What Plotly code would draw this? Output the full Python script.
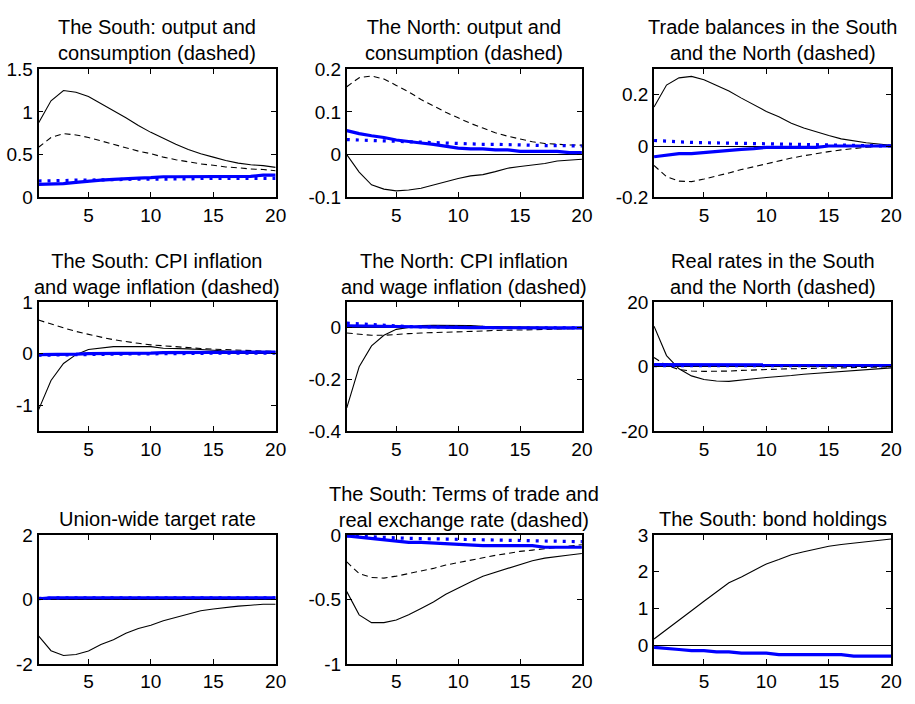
import plotly.graph_objects as go

periods = list(range(1, 21))

titles = [
    "The South: output and<br>consumption (dashed)",
    "The North: output and<br>consumption (dashed)",
    "Trade balances in the South<br>and the North (dashed)",
    "The South: CPI inflation<br>and wage inflation (dashed)",
    "The North: CPI inflation<br>and wage inflation (dashed)",
    "Real rates in the South<br>and the North (dashed)",
    "Union-wide target rate",
    "The South: Terms of trade and<br>real exchange rate (dashed)",
    "The South: bond holdings",
]

# Panel 1
p1_solid = [0.87, 1.13, 1.25, 1.23, 1.18, 1.10, 1.02, 0.93, 0.84, 0.76, 0.69, 0.62, 0.56, 0.51, 0.47, 0.43, 0.40, 0.38, 0.37, 0.35]
p1_dashed = [0.585, 0.70, 0.745, 0.73, 0.70, 0.66, 0.62, 0.585, 0.54, 0.51, 0.47, 0.44, 0.415, 0.39, 0.375, 0.355, 0.345, 0.33, 0.325, 0.31]
p1_blue = [0.15, 0.155, 0.16, 0.175, 0.19, 0.20, 0.21, 0.22, 0.225, 0.23, 0.24, 0.24, 0.24, 0.24, 0.24, 0.24, 0.245, 0.245, 0.26, 0.26]
p1_blue_dot = [0.19, 0.19, 0.195, 0.20, 0.20, 0.205, 0.205, 0.21, 0.21, 0.21, 0.215, 0.215, 0.215, 0.22, 0.22, 0.22, 0.22, 0.22, 0.22, 0.22]

# Panel 2
p2_solid = [0.0, -0.041, -0.071, -0.081, -0.085, -0.083, -0.079, -0.071, -0.064, -0.056, -0.050, -0.047, -0.040, -0.032, -0.028, -0.025, -0.021, -0.015, -0.0135, -0.011]
p2_dashed = [0.159, 0.18, 0.184, 0.177, 0.162, 0.147, 0.129, 0.114, 0.099, 0.086, 0.073, 0.062, 0.051, 0.043, 0.036, 0.030, 0.026, 0.024, 0.0225, 0.022]
p2_blue = [0.056, 0.049, 0.044, 0.040, 0.034, 0.030, 0.027, 0.024, 0.019, 0.015, 0.0135, 0.0135, 0.011, 0.011, 0.0075, 0.0075, 0.0075, 0.0075, 0.0045, 0.0045]
p2_blue_dot = [0.035, 0.034, 0.033, 0.031, 0.030, 0.029, 0.028, 0.027, 0.027, 0.026, 0.025, 0.024, 0.024, 0.023, 0.0225, 0.022, 0.021, 0.021, 0.020, 0.020]

# Panel 3
p3_solid = [0.152, 0.238, 0.266, 0.272, 0.259, 0.238, 0.215, 0.187, 0.161, 0.135, 0.114, 0.089, 0.070, 0.054, 0.041, 0.028, 0.019, 0.013, 0.008, 0.003]
p3_dashed = [-0.076, -0.12, -0.137, -0.139, -0.129, -0.118, -0.105, -0.092, -0.080, -0.068, -0.057, -0.047, -0.038, -0.029, -0.022, -0.015, -0.009, -0.005, -0.001, 0.0]
p3_blue = [-0.042, -0.035, -0.030, -0.030, -0.025, -0.020, -0.018, -0.013, -0.010, -0.005, -0.005, -0.005, -0.005, -0.005, 0.0, 0.0, 0.0, 0.0, 0.0, 0.0]
p3_blue_dot = [0.0215, 0.018, 0.015, 0.014, 0.013, 0.012, 0.011, 0.010, 0.0095, 0.009, 0.008, 0.007, 0.006, 0.005, 0.004, 0.003, 0.002, 0.001, 0.0005, 0.0]

# Panel 4
p4_solid = [-1.09, -0.52, -0.19, -0.02, 0.08, 0.11, 0.135, 0.135, 0.135, 0.135, 0.105, 0.105, 0.093, 0.08, 0.062, 0.05, 0.043, 0.031, 0.031, 0.031]
p4_dashed = [0.65, 0.57, 0.50, 0.43, 0.37, 0.32, 0.27, 0.23, 0.20, 0.17, 0.15, 0.13, 0.12, 0.10, 0.087, 0.075, 0.062, 0.056, 0.05, 0.043]
p4_blue = [-0.02, -0.02, -0.02, -0.01, 0.0, 0.0, 0.01, 0.01, 0.01, 0.01, 0.02, 0.02, 0.02, 0.02, 0.02, 0.02, 0.025, 0.025, 0.03, 0.03]
p4_blue_dot = [-0.03, -0.03, -0.03, -0.025, -0.02, -0.015, -0.01, -0.01, -0.005, 0.0, 0.0, 0.0, 0.005, 0.005, 0.01, 0.01, 0.01, 0.01, 0.01, 0.01]

# Panel 5
p5_solid = [-0.31, -0.151, -0.07, -0.029, -0.006, 0.0025, 0.009, 0.01, 0.01, 0.01, 0.009, 0.006, 0.005, 0.004, 0.0025, 0.0025, 0.0, 0.0, 0.0, 0.0]
p5_dashed = [-0.02, -0.025, -0.029, -0.029, -0.025, -0.0225, -0.02, -0.019, -0.016, -0.016, -0.014, -0.0125, -0.01, -0.01, -0.009, -0.0075, -0.006, -0.005, -0.004, -0.0025]
p5_blue = [0.008, 0.007, 0.006, 0.005, 0.004, 0.003, 0.002, 0.002, 0.001, 0.001, 0.0005, 0.0005, 0.0, 0.0, 0.0, 0.0, 0.0, 0.0, 0.0, 0.0]
p5_blue_dot = [0.018, 0.015, 0.012, 0.009, 0.007, 0.005, 0.004, 0.003, 0.002, 0.002, 0.001, 0.001, 0.001, 0.0005, 0.0005, 0.0, 0.0, 0.0, 0.0, 0.0]

# Panel 6
p6_solid = [12.5, 3.4, -0.7, -2.9, -4.0, -4.5, -4.6, -4.3, -3.8, -3.4, -3.2, -2.8, -2.4, -2.1, -1.8, -1.5, -1.2, -0.8, -0.5, -0.4]
p6_dashed = [2.8, 0.3, -0.9, -1.4, -1.5, -1.5, -1.4, -1.2, -1.0, -0.9, -0.8, -0.7, -0.6, -0.5, -0.4, -0.3, -0.2, -0.2, -0.1, -0.1]
p6_blue = [0.6, 0.6, 0.55, 0.55, 0.55, 0.5, 0.5, 0.5, 0.5, 0.5, 0.5, 0.5, 0.5, 0.5, 0.5, 0.5, 0.5, 0.5, 0.5, 0.5]
p6_blue_dot = [0.3, 0.3, 0.3, 0.3, 0.3, 0.3, 0.3, 0.3, 0.3, 0.3, 0.3, 0.3, 0.3, 0.3, 0.3, 0.3, 0.3, 0.3, 0.3, 0.3]

# Panel 7
p7_solid = [-1.13, -1.59, -1.74, -1.71, -1.60, -1.40, -1.25, -1.05, -0.90, -0.80, -0.66, -0.55, -0.45, -0.35, -0.30, -0.25, -0.21, -0.18, -0.15, -0.15]
p7_blue = [0.02, 0.05, 0.05, 0.05, 0.05, 0.05, 0.05, 0.05, 0.05, 0.05, 0.05, 0.05, 0.05, 0.05, 0.05, 0.05, 0.05, 0.05, 0.05, 0.05]
p7_blue_dot = [0.03, 0.05, 0.05, 0.05, 0.05, 0.05, 0.05, 0.05, 0.05, 0.05, 0.05, 0.05, 0.05, 0.05, 0.05, 0.05, 0.05, 0.05, 0.05, 0.05]

# Panel 8
p8_solid = [-0.44, -0.62, -0.68, -0.68, -0.66, -0.62, -0.57, -0.52, -0.46, -0.41, -0.365, -0.32, -0.29, -0.257, -0.227, -0.20, -0.18, -0.17, -0.156, -0.144]
p8_dashed = [-0.21, -0.30, -0.33, -0.335, -0.32, -0.30, -0.28, -0.26, -0.234, -0.214, -0.194, -0.176, -0.159, -0.144, -0.128, -0.118, -0.106, -0.096, -0.086, -0.076]
p8_blue = [-0.008, -0.018, -0.033, -0.043, -0.053, -0.058, -0.058, -0.063, -0.07, -0.07, -0.076, -0.083, -0.083, -0.083, -0.083, -0.083, -0.096, -0.096, -0.096, -0.096]
p8_blue_dot = [-0.008, -0.013, -0.018, -0.021, -0.025, -0.027, -0.029, -0.031, -0.032, -0.033, -0.035, -0.037, -0.039, -0.041, -0.043, -0.045, -0.047, -0.049, -0.051, -0.053]

# Panel 9
p9_solid = [0.175, 0.43, 0.66, 0.94, 1.20, 1.45, 1.70, 1.86, 2.04, 2.21, 2.33, 2.46, 2.54, 2.62, 2.69, 2.74, 2.78, 2.82, 2.85, 2.89]
p9_blue = [-0.05, -0.07, -0.11, -0.14, -0.14, -0.175, -0.175, -0.21, -0.21, -0.21, -0.25, -0.25, -0.25, -0.25, -0.25, -0.25, -0.29, -0.29, -0.29, -0.29]

x_ticks = [5, 10, 15, 20]
y_ranges = [[0, 1.5], [-0.1, 0.2], [-0.2, 0.3], [-1.5, 1], [-0.4, 0.1], [-20, 20], [-2, 2], [-1, 0], [-0.5, 3]]
y_tickvals = [[0, 0.5, 1, 1.5], [-0.1, 0, 0.1, 0.2], [-0.2, 0, 0.2], [-1, 0, 1], [-0.4, -0.2, 0],
              [-20, 0, 20], [-2, 0, 2], [-1, -0.5, 0], [0, 1, 2, 3]]
y_ticktext = [["0", "0.5", "1", "1.5"], ["-0.1", "0", "0.1", "0.2"], ["-0.2", "0", "0.2"], ["-1", "0", "1"],
              ["-0.4", "-0.2", "0"], ["-20", "0", "20"], ["-2", "0", "2"], ["-1", "-0.5", "0"], ["0", "1", "2", "3"]]

panels = [
    [p1_solid, p1_dashed, p1_blue, p1_blue_dot],
    [p2_solid, p2_dashed, p2_blue, p2_blue_dot],
    [p3_solid, p3_dashed, p3_blue, p3_blue_dot],
    [p4_solid, p4_dashed, p4_blue, p4_blue_dot],
    [p5_solid, p5_dashed, p5_blue, p5_blue_dot],
    [p6_solid, p6_dashed, p6_blue, p6_blue_dot],
    [p7_solid, None, p7_blue, p7_blue_dot],
    [p8_solid, p8_dashed, p8_blue, p8_blue_dot],
    [p9_solid, None, p9_blue, None],
]

W, H = 915, 704
col_px = [(39, 279), (351, 589), (662, 902)]
row_px = [(61, 193), (301, 434), (541, 674)]
title_center_px = [30.5, 272.5, 512.5]

FONT = "Liberation Sans, Arial, Helvetica, sans-serif"

styles = [
    dict(color="black", width=1.1),
    dict(color="black", width=1.1, dash="6px,4px"),
    dict(color="#0000ff", width=3.2),
    dict(color="#0000ff", width=3.2, dash="3px,6px"),
]

fig = go.Figure()
annotations = []
layout = {}
for i in range(9):
    r, c = divmod(i, 3)
    n = i + 1
    xs = "" if n == 1 else str(n)
    xa, ya = "x" + xs, "y" + xs
    for series, st in zip(panels[i], styles):
        if series is None:
            continue
        fig.add_trace(go.Scatter(x=periods, y=series, mode="lines", line=st,
                                 xaxis=xa, yaxis=ya, showlegend=False, hoverinfo="skip"))
    x0, x1 = col_px[c]
    y0, y1 = row_px[r]
    layout["xaxis" + xs] = dict(
        domain=[x0 / W, x1 / W], anchor=ya, range=[1, 20], tickvals=x_ticks,
        ticktext=[str(t) for t in x_ticks], ticks="inside", ticklen=5, tickwidth=1,
        tickcolor="black", showline=True, linecolor="black", linewidth=1.6,
        mirror="ticks", showgrid=False, zeroline=False,
        tickfont=dict(family=FONT, size=19, color="black"),
    )
    layout["yaxis" + xs] = dict(
        domain=[1 - y1 / H, 1 - y0 / H], anchor=xa, range=y_ranges[i],
        tickvals=y_tickvals[i], ticktext=y_ticktext[i], ticks="inside", ticklen=5,
        tickwidth=1, tickcolor="black", showline=True, linecolor="black", linewidth=1.6,
        mirror="ticks", showgrid=False, zeroline=True, zerolinecolor="black",
        zerolinewidth=1.2, tickfont=dict(family=FONT, size=19, color="black"),
    )
    tc = title_center_px[r]
    if "<br>" not in titles[i]:
        tc = y0 - 16
    annotations.append(dict(
        text=titles[i], xref="paper", yref="paper", x=(x0 + x1) / 2 / W, y=1 - tc / H,
        xanchor="center", yanchor="middle", showarrow=False,
        font=dict(family=FONT, size=20, color="black"),
    ))

fig.update_layout(
    width=W, height=H, margin=dict(l=0, r=0, t=0, b=0),
    paper_bgcolor="white", plot_bgcolor="white",
    annotations=annotations, **layout,
)

fig.write_html("out.html")
